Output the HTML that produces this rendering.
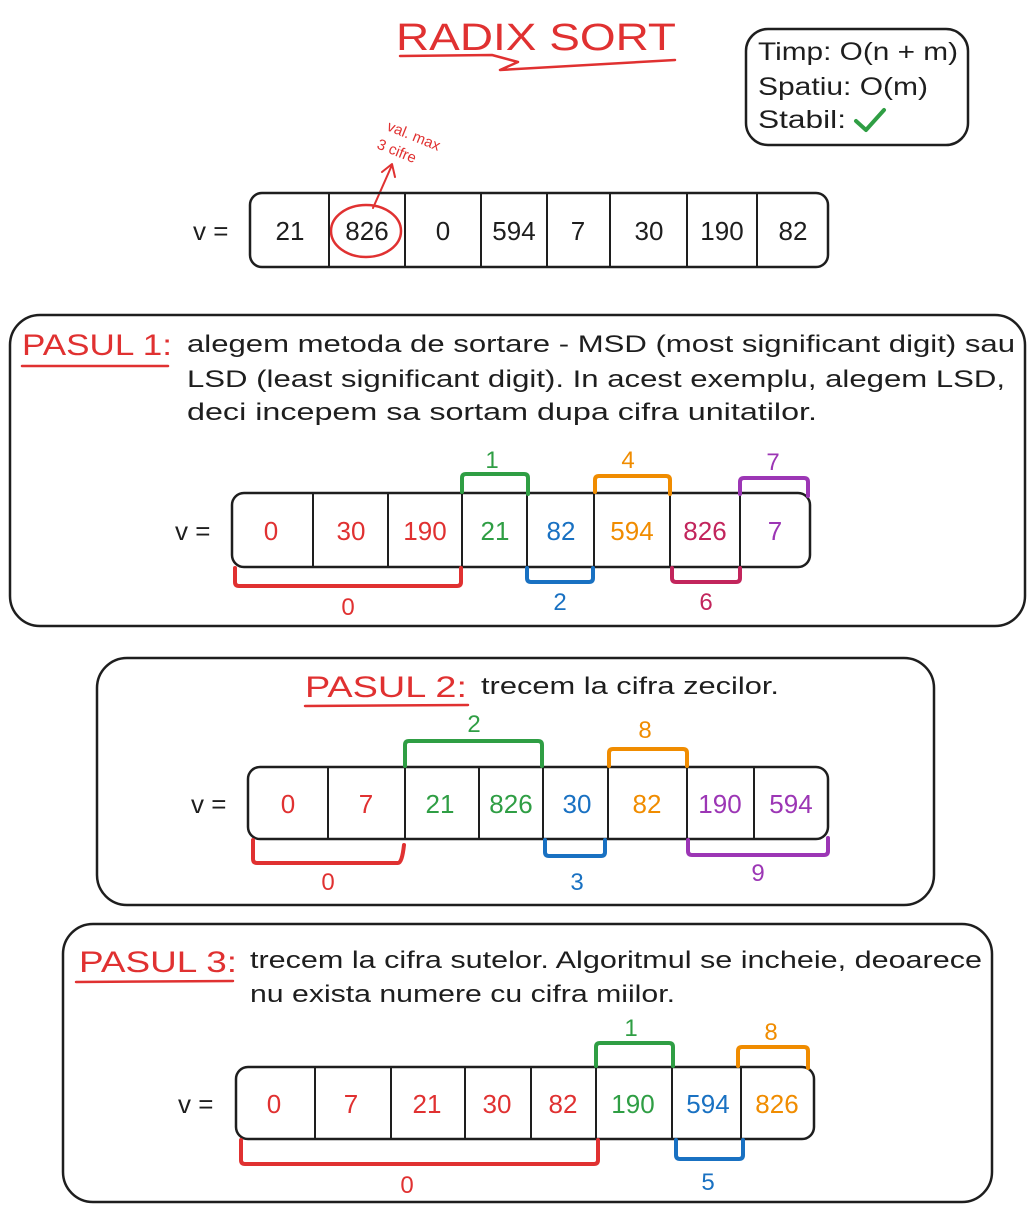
<!DOCTYPE html>
<html><head><meta charset="utf-8"><style>
html,body{margin:0;padding:0;background:#fff;}
svg{display:block;}
text{font-family:"Liberation Sans",sans-serif;}
</style></head><body>
<svg width="1034" height="1213" viewBox="0 0 1034 1213" xmlns="http://www.w3.org/2000/svg">
<g fill="none" stroke-linecap="round" stroke-linejoin="round">
<!-- title -->
<text x="396" y="50" font-size="38" fill="#e03131" stroke="none" textLength="280" lengthAdjust="spacingAndGlyphs">RADIX SORT</text>
<path d="M400 56 L492 55 L518 62 L500 70 L675 60" stroke="#e03131" stroke-width="2.5"/>
<!-- complexity box -->
<rect x="746" y="29" width="222" height="116" rx="22" stroke="#1e1e1e" stroke-width="2.5"/>
<text x="758" y="60" font-size="25" fill="#1e1e1e" stroke="none" textLength="200" lengthAdjust="spacingAndGlyphs">Timp: O(n + m)</text>
<text x="758" y="95" font-size="25" fill="#1e1e1e" stroke="none" textLength="170" lengthAdjust="spacingAndGlyphs">Spatiu: O(m)</text>
<text x="758" y="128" font-size="25" fill="#1e1e1e" stroke="none" textLength="88" lengthAdjust="spacingAndGlyphs">Stabil:</text>
<path d="M856 121 L866 130 L884 110" stroke="#2f9e44" stroke-width="4"/>
<!-- annotation -->
<text x="386" y="130" font-size="15" fill="#e03131" stroke="none" transform="rotate(22 386 130)">val. max</text>
<text x="376" y="148" font-size="15" fill="#e03131" stroke="none" transform="rotate(22 376 148)">3 cifre</text>
<path d="M373 208 L392 165 M382 172 L392 164 L395 177" stroke="#e03131" stroke-width="2"/>
<ellipse cx="366" cy="231" rx="35" ry="26" stroke="#e03131" stroke-width="2.5"/>

<!-- array 0 -->
<text x="193" y="240" font-size="26" fill="#1e1e1e" stroke="none">v =</text>
<rect x="250" y="193" width="578" height="74" rx="12" stroke="#1e1e1e" stroke-width="2.5"/>
<path d="M329 193V267M405 193V267M481 193V267M547 193V267M610 193V267M687 193V267M757 193V267" stroke="#1e1e1e" stroke-width="2"/>
<g font-size="26" fill="#1e1e1e" stroke="none" text-anchor="middle">
<text x="290" y="240">21</text><text x="367" y="240">826</text><text x="443" y="240">0</text><text x="514" y="240">594</text><text x="578" y="240">7</text><text x="649" y="240">30</text><text x="722" y="240">190</text><text x="793" y="240">82</text>
</g>

<!-- panel 1 -->
<rect x="10" y="315" width="1015" height="311" rx="30" stroke="#1e1e1e" stroke-width="2.5"/>
<text x="22" y="355" font-size="30" fill="#e03131" stroke="none" textLength="150" lengthAdjust="spacingAndGlyphs">PASUL 1:</text>
<path d="M22 366 L168 366" stroke="#e03131" stroke-width="2.5"/>
<g font-size="24" fill="#1e1e1e" stroke="none">
<text x="187" y="352" textLength="828" lengthAdjust="spacingAndGlyphs">alegem metoda de sortare - MSD (most significant digit) sau</text>
<text x="187" y="387" textLength="818" lengthAdjust="spacingAndGlyphs">LSD (least significant digit). In acest exemplu, alegem LSD,</text>
<text x="187" y="420" textLength="630" lengthAdjust="spacingAndGlyphs">deci incepem sa sortam dupa cifra unitatilor.</text>
</g>
<text x="175" y="540" font-size="26" fill="#1e1e1e" stroke="none">v =</text>
<rect x="232" y="493" width="578" height="74" rx="12" stroke="#1e1e1e" stroke-width="2.5"/>
<path d="M313 493V567M388 493V567M462 493V567M527 493V567M594 493V567M670 493V567M740 493V567" stroke="#1e1e1e" stroke-width="2"/>
<g font-size="26" stroke="none" text-anchor="middle">
<text x="271" y="540" fill="#e03131">0</text><text x="351" y="540" fill="#e03131">30</text><text x="425" y="540" fill="#e03131">190</text><text x="495" y="540" fill="#2f9e44">21</text><text x="561" y="540" fill="#1971c2">82</text><text x="632" y="540" fill="#f08c00">594</text><text x="705" y="540" fill="#c2255c">826</text><text x="775" y="540" fill="#9c36b5">7</text>
</g>
<g stroke-width="4">
<path d="M462 492 V478 Q462 474 466 474 H524 Q528 474 528 478 V494" stroke="#2f9e44"/>
<path d="M595 492 V480 Q595 476 599 476 H666 Q670 476 670 480 V494" stroke="#f08c00"/>
<path d="M740 494 V482 Q740 478 744 478 H804 Q808 478 808 482 V496" stroke="#9c36b5"/>
<path d="M235 568 V582 Q235 586 239 586 H457 Q461 586 461 582 V568" stroke="#e03131"/>
<path d="M527 568 V578 Q527 582 531 582 H589 Q593 582 593 578 V568" stroke="#1971c2"/>
<path d="M672 568 V578 Q672 582 676 582 H736 Q740 582 740 578 V568" stroke="#c2255c"/>
</g>
<g font-size="24" stroke="none" text-anchor="middle">
<text x="492" y="468" fill="#2f9e44">1</text><text x="628" y="468" fill="#f08c00">4</text><text x="773" y="470" fill="#9c36b5">7</text>
<text x="348" y="615" fill="#e03131">0</text><text x="560" y="610" fill="#1971c2">2</text><text x="706" y="610" fill="#c2255c">6</text>
</g>

<!-- panel 2 -->
<rect x="97" y="658" width="837" height="247" rx="30" stroke="#1e1e1e" stroke-width="2.5"/>
<text x="305" y="697" font-size="30" fill="#e03131" stroke="none" textLength="162" lengthAdjust="spacingAndGlyphs">PASUL 2:</text>
<path d="M305 706 L468 705" stroke="#e03131" stroke-width="2.5"/>
<text x="481" y="694" font-size="24" fill="#1e1e1e" stroke="none" textLength="298" lengthAdjust="spacingAndGlyphs">trecem la cifra zecilor.</text>
<text x="191" y="813" font-size="26" fill="#1e1e1e" stroke="none">v =</text>
<rect x="248" y="767" width="580" height="72" rx="12" stroke="#1e1e1e" stroke-width="2.5"/>
<path d="M328 767V839M405 767V839M479 767V839M543 767V839M608 767V839M687 767V839M754 767V839" stroke="#1e1e1e" stroke-width="2"/>
<g font-size="26" stroke="none" text-anchor="middle">
<text x="288" y="813" fill="#e03131">0</text><text x="366" y="813" fill="#e03131">7</text><text x="440" y="813" fill="#2f9e44">21</text><text x="511" y="813" fill="#2f9e44">826</text><text x="577" y="813" fill="#1971c2">30</text><text x="647" y="813" fill="#f08c00">82</text><text x="720" y="813" fill="#9c36b5">190</text><text x="791" y="813" fill="#9c36b5">594</text>
</g>
<g stroke-width="4">
<path d="M405 766 V745 Q405 741 409 741 H538 Q542 741 542 745 V766" stroke="#2f9e44"/>
<path d="M609 766 V753 Q609 749 613 749 H683 Q687 749 687 753 V766" stroke="#f08c00"/>
<path d="M253 840 V859 Q253 863 257 863 H398 Q402 863 404 845" stroke="#e03131"/>
<path d="M545 840 V852 Q545 856 549 856 H601 Q605 856 605 852 V840" stroke="#1971c2"/>
<path d="M688 840 V851 Q688 855 692 855 H824 Q828 855 828 851 V838" stroke="#9c36b5"/>
</g>
<g font-size="24" stroke="none" text-anchor="middle">
<text x="474" y="732" fill="#2f9e44">2</text><text x="645" y="738" fill="#f08c00">8</text>
<text x="328" y="890" fill="#e03131">0</text><text x="577" y="890" fill="#1971c2">3</text><text x="758" y="881" fill="#9c36b5">9</text>
</g>

<!-- panel 3 -->
<rect x="63" y="924" width="929" height="278" rx="30" stroke="#1e1e1e" stroke-width="2.5"/>
<text x="79" y="972" font-size="30" fill="#e03131" stroke="none" textLength="158" lengthAdjust="spacingAndGlyphs">PASUL 3:</text>
<path d="M76 982 L233 981" stroke="#e03131" stroke-width="2.5"/>
<g font-size="24" fill="#1e1e1e" stroke="none">
<text x="250" y="968" textLength="732" lengthAdjust="spacingAndGlyphs">trecem la cifra sutelor. Algoritmul se incheie, deoarece</text>
<text x="250" y="1002" textLength="425" lengthAdjust="spacingAndGlyphs">nu exista numere cu cifra miilor.</text>
</g>
<text x="178" y="1113" font-size="26" fill="#1e1e1e" stroke="none">v =</text>
<rect x="236" y="1067" width="578" height="72" rx="12" stroke="#1e1e1e" stroke-width="2.5"/>
<path d="M315 1067V1139M391 1067V1139M465 1067V1139M531 1067V1139M596 1067V1139M672 1067V1139M741 1067V1139" stroke="#1e1e1e" stroke-width="2"/>
<g font-size="26" stroke="none" text-anchor="middle">
<text x="274" y="1113" fill="#e03131">0</text><text x="351" y="1113" fill="#e03131">7</text><text x="427" y="1113" fill="#e03131">21</text><text x="497" y="1113" fill="#e03131">30</text><text x="563" y="1113" fill="#e03131">82</text><text x="633" y="1113" fill="#2f9e44">190</text><text x="708" y="1113" fill="#1971c2">594</text><text x="777" y="1113" fill="#f08c00">826</text>
</g>
<g stroke-width="4">
<path d="M596 1066 V1047 Q596 1043 600 1043 H669 Q673 1043 673 1047 V1066" stroke="#2f9e44"/>
<path d="M738 1066 V1051 Q738 1047 742 1047 H804 Q808 1047 808 1051 V1068" stroke="#f08c00"/>
<path d="M241 1140 V1160 Q241 1164 245 1164 H594 Q598 1164 598 1160 V1140" stroke="#e03131"/>
<path d="M676 1140 V1155 Q676 1159 680 1159 H739 Q743 1159 743 1155 V1140" stroke="#1971c2"/>
</g>
<g font-size="24" stroke="none" text-anchor="middle">
<text x="631" y="1036" fill="#2f9e44">1</text><text x="771" y="1040" fill="#f08c00">8</text>
<text x="407" y="1193" fill="#e03131">0</text><text x="708" y="1190" fill="#1971c2">5</text>
</g>
</g>
</svg>
</body></html>
